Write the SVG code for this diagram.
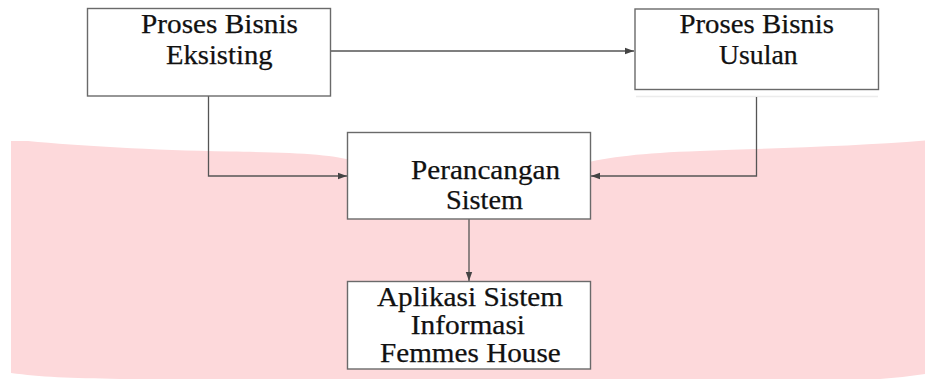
<svg xmlns="http://www.w3.org/2000/svg" width="925" height="379" viewBox="0 0 925 379">
<style>
.box{fill:#fff;stroke:#6a6a6a;stroke-width:1.4}
.t{font-family:"Liberation Serif","Times New Roman",serif;font-size:27px;fill:#111;stroke:#111;stroke-width:0.25}
.c{fill:none;stroke:#555;stroke-width:1.3}
</style>
<defs>
<marker id="ah" markerUnits="userSpaceOnUse" markerWidth="10" markerHeight="8" refX="9" refY="4" orient="auto">
<path d="M0,0.8 L9,4 L0,7.2 Z" fill="#444"/>
</marker>
</defs>
<rect width="925" height="379" fill="#fff"/>
<path d="M11,141 L28,141 C80,146 150,150 230,151.5 C300,152.5 330,154 360,162 L580,164 C610,157 640,153 700,151 C780,148 860,146 925,140.5 L925,374 C910,376 895,378 880,379 L120,379 C70,378 40,377 11,373 Z" fill="#fdd9db"/>
<line x1="636" y1="96.5" x2="878" y2="96.5" stroke="#ececec" stroke-width="1.5"/>
<g id="connectors">
<path class="c" d="M331,51 H634" marker-end="url(#ah)"/>
<path class="c" d="M208.5,96 V176 H347" marker-end="url(#ah)"/>
<path class="c" d="M756.5,97 V176 H591" marker-end="url(#ah)"/>
<path class="c" d="M469,219 V281" marker-end="url(#ah)"/>
</g>
<g id="node-eksisting">
<rect class="box" x="87.5" y="8.5" width="243" height="87.5"/>
<text class="t" x="141" y="32.5" textLength="157" lengthAdjust="spacingAndGlyphs">Proses Bisnis</text>
<text class="t" x="166" y="63.5" textLength="106.5" lengthAdjust="spacingAndGlyphs">Eksisting</text>
</g>
<g id="node-usulan">
<rect class="box" x="635" y="9" width="243.5" height="80.5"/>
<text class="t" x="679.5" y="32.5" textLength="154.5" lengthAdjust="spacingAndGlyphs">Proses Bisnis</text>
<text class="t" x="719" y="63.5" textLength="78.7" lengthAdjust="spacingAndGlyphs">Usulan</text>
</g>
<g id="node-perancangan">
<rect class="box" x="347.5" y="132.5" width="243" height="86.5"/>
<text class="t" x="411" y="179" textLength="149" lengthAdjust="spacingAndGlyphs">Perancangan</text>
<text class="t" x="446" y="208.5" textLength="77" lengthAdjust="spacingAndGlyphs">Sistem</text>
</g>
<g id="node-aplikasi">
<rect class="box" x="347.5" y="281.5" width="243" height="87.5"/>
<text class="t" x="377" y="306" textLength="186" lengthAdjust="spacingAndGlyphs">Aplikasi Sistem</text>
<text class="t" x="410.7" y="333.5" textLength="114.3" lengthAdjust="spacingAndGlyphs">Informasi</text>
<text class="t" x="380" y="361.5" textLength="180.7" lengthAdjust="spacingAndGlyphs">Femmes House</text>
</g>
</svg>
